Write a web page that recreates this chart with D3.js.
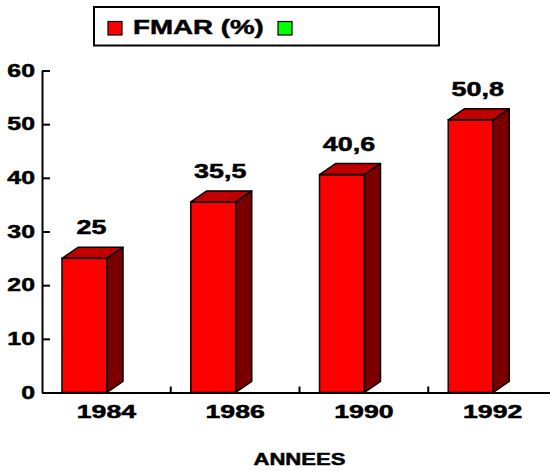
<!DOCTYPE html>
<html>
<head>
<meta charset="utf-8">
<script src="https://cdn.jsdelivr.net/npm/d3@7"></script>
<style>
  body { margin: 0; background: #fff; }
  text { font-family: "Liberation Sans", Arial, sans-serif; font-weight: bold; fill: #000; stroke: #000; stroke-width: 0.5px; }
</style>
</head>
<body>
<div id="fig"></div>
<script>
// data
let years = ['1984', '1986', '1990', '1992'];
let fmar = [25, 35.5, 40.6, 50.8];
let valueLabels = ['25', '35,5', '40,6', '50,8'];
let yTicks = [0, 10, 20, 30, 40, 50, 60];
let legendNames = ['FMAR (%)', ''];
let legendColors = ['#ff0000', '#00ff00'];

let width = 550;
let height = 471;
let sx = 1.38;   // text in the picture is stretched sideways

let plot = {left: 42, right: 557, top: 70.5, bottom: 392.5};
let bar = {offset: 20, width: 45, dx: 16, dy: 11};
let colors = {front: '#ff0000', top: '#c00000', side: '#7a0000'};

let svg = d3.select('#fig').append('svg')
    .attr('width', width)
    .attr('height', height)
    .style('background', '#fff');

let x = d3.scaleBand()
    .domain(years)
    .range([plot.left, plot.right]);

let y = d3.scaleLinear()
    .domain([0, 60])
    .range([plot.bottom, plot.top]);

// bars (front, top, side)
let bars = svg.append('g')
    .selectAll('g')
    .data(years.map((d, i) => ({year: d, value: fmar[i], label: valueLabels[i]})))
    .join('g');

bars.append('rect')
    .attr('x', d => x(d.year) + bar.offset)
    .attr('y', d => y(d.value))
    .attr('width', bar.width)
    .attr('height', d => y(0) - y(d.value))
    .attr('fill', colors.front)
    .attr('stroke', '#000')
    .attr('stroke-width', 1.5);

bars.append('path')
    .attr('d', d => {
        let x0 = x(d.year) + bar.offset, x1 = x0 + bar.width, yv = y(d.value);
        return `M${x0},${yv}L${x0 + bar.dx},${yv - bar.dy}L${x1 + bar.dx},${yv - bar.dy}L${x1},${yv}Z`;
    })
    .attr('fill', colors.top)
    .attr('stroke', '#000')
    .attr('stroke-width', 1.5)
    .attr('stroke-linejoin', 'round');

bars.append('path')
    .attr('d', d => {
        let x1 = x(d.year) + bar.offset + bar.width, yv = y(d.value), y0 = y(0);
        return `M${x1},${yv}L${x1 + bar.dx},${yv - bar.dy}L${x1 + bar.dx},${y0 - bar.dy}L${x1},${y0}Z`;
    })
    .attr('fill', colors.side)
    .attr('stroke', '#000')
    .attr('stroke-width', 1.5)
    .attr('stroke-linejoin', 'round');

bars.append('text')
    .attr('text-anchor', 'middle')
    .style('font-size', '19.5px')
    .attr('transform', d => `translate(${x(d.year) + bar.offset + bar.width / 2 + 7},${y(d.value) - 24}) scale(${sx},1)`)
    .text(d => d.label);

// y axis
let yAxis = svg.append('g')
    .attr('transform', `translate(${plot.left},0)`)
    .call(d3.axisLeft(y).tickValues(yTicks).tickSizeInner(-8).tickSizeOuter(0));

yAxis.select('.domain').attr('stroke-width', 2);
yAxis.selectAll('.tick line').attr('stroke-width', 2);
yAxis.selectAll('.tick text')
    .attr('x', null)
    .attr('fill', '#000')
    .style('font-size', '18px')
    .attr('transform', `translate(-7,0) scale(${sx},1)`);

// x axis
let xAxis = svg.append('g')
    .attr('transform', `translate(0,${plot.bottom})`)
    .call(d3.axisBottom(x).tickSize(0).tickSizeOuter(0));

xAxis.select('.domain').attr('stroke-width', 2);
xAxis.selectAll('.tick text')
    .attr('y', 26)
    .attr('dy', null)
    .attr('fill', '#000')
    .style('font-size', '18px')
    .attr('transform', `scale(1.48,1)`);

xAxis.selectAll('.sep')
    .data(years.slice(1))
    .join('line')
    .attr('class', 'sep')
    .attr('x1', d => x(d))
    .attr('x2', d => x(d))
    .attr('y1', 0)
    .attr('y2', -6)
    .attr('stroke', '#000')
    .attr('stroke-width', 2);

svg.append('text')
    .attr('text-anchor', 'middle')
    .style('font-size', '17px')
    .attr('transform', `translate(${(plot.left + plot.right) / 2},465) scale(1.3,1)`)
    .text('ANNEES');

// legend
let legend = svg.append('g');
legend.append('rect')
    .attr('x', 94)
    .attr('y', 7)
    .attr('width', 345)
    .attr('height', 38.5)
    .attr('fill', '#fff')
    .attr('stroke', '#000')
    .attr('stroke-width', 2);

let legendX = [108, 278];
legendNames.forEach((name, i) => {
    legend.append('rect')
        .attr('x', legendX[i])
        .attr('y', 21.5)
        .attr('width', 14)
        .attr('height', 13.5)
        .attr('fill', legendColors[i])
        .attr('stroke', '#000')
        .attr('stroke-width', 1.2);
    legend.append('text')
        .style('font-size', '21px')
        .attr('transform', `translate(${legendX[i] + 25},33.5) scale(1.32,1)`)
        .text(name);
});
</script>
</body>
</html>
